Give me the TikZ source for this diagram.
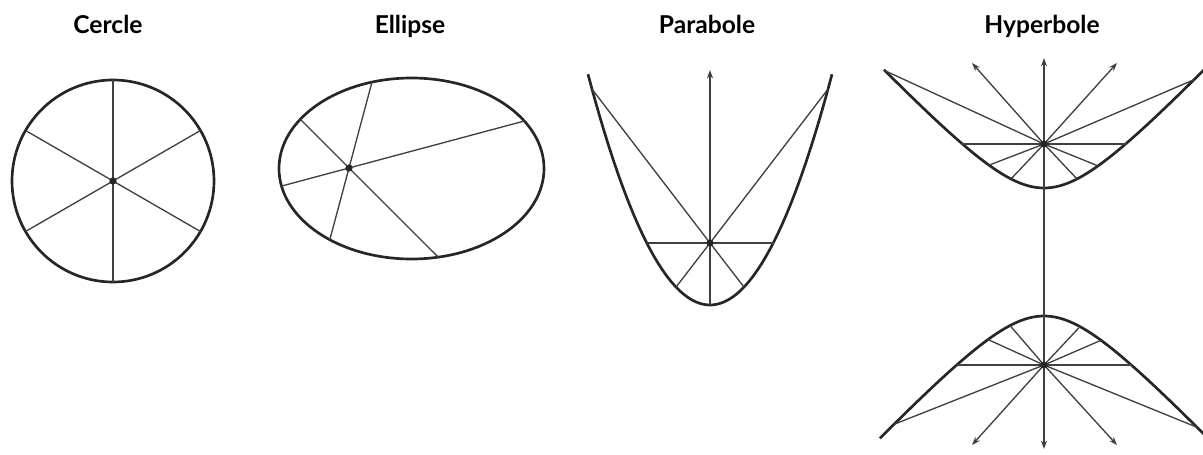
\documentclass[tikz,border=0pt]{standalone}
\usepackage{fontspec}
\newfontfamily\titlefont{Lato}
\definecolor{ConiqueInk}{HTML}{262626}
\definecolor{ConiqueRay}{HTML}{404040}
\usetikzlibrary{arrows.meta,calc,intersections}

\begin{document}
\begin{tikzpicture}[
    x=0.25mm, y=-0.25mm,
    declare function={
      parab(\t)=305-0.0155*\t*\t;
      hypH(\t)=252-64*sqrt(1+(\t/60)^2);
      hypB(\t)=252+64*sqrt(1+(\t/60)^2);
    },
    courbe/.style={draw=ConiqueInk, line width=1.9pt},
    rayon/.style={draw=ConiqueRay, line width=0.95pt},
    fleche/.style={rayon, -{Stealth[length=2.1mm,width=1.5mm]}},
    foyer/.style={circle, fill=ConiqueInk, inner sep=0pt, minimum size=1.8mm},
    titre/.style={font=\titlefont\bfseries\fontsize{17.5}{20}\selectfont, anchor=base}
  ]
  \useasboundingbox (0,0) rectangle (1203,455);

  % titles
  \node[titre] (tCercle) at (108,34) {Cercle};
  \node[titre] (tEllipse) at (410,34) {Ellipse};
  \node[titre] (tParabole) at (707,34) {Parabole};
  \node[titre] (tHyperbole) at (1042,34) {Hyperbole};

  % cercle
  \coordinate (Oc) at (113,181);
  \draw[courbe] (Oc) circle [radius=101];
  \foreach \a in {30,90,150}
    \draw[rayon] ($(Oc)+(\a:101)$) -- ($(Oc)+(\a+180:101)$);
  \node[foyer] (fc) at (Oc) {};

  % ellipse
  \coordinate (Oe) at (411.5,168.5);
  \coordinate (Fe) at (349,168);
  \draw[courbe, name path=ell] (Oe) ellipse [x radius=132.5, y radius=90.5];
  \foreach \a in {-15,45,-75} {
    \path[name path=corde] ($(Fe)+(\a:260)$) -- ($(Fe)+(\a+180:260)$);
    \draw[rayon, name intersections={of=ell and corde}]
      (intersection-1) -- (intersection-2);
  }
  \node[foyer] (fe) at (Fe) {};

  % parabole
  \coordinate (Fp) at (710,243);
  \coordinate (Sp) at (710,305);
  \coordinate (Ap) at (710,70);
  \draw[courbe] plot[domain=-122:122, samples=60] ({710+\x},{parab(\x)});
  \draw[fleche] (Sp) -- (Ap);
  \draw[rayon] ({710-63.5},243) -- ({710+63.5},243);
  \foreach \d in {-118,-34,34,118}
    \draw[rayon] (Fp) -- ({710+\d},{parab(\d)});
  \node[foyer] (fp) at (Fp) {};

  % hyperbole
  \coordinate (Fh) at (1044,144);
  \coordinate (Fb) at (1044,365);
  \coordinate (Ah) at (1044,58);
  \coordinate (Ab) at (1044,449);
  \draw[courbe] plot[domain=-160:162, samples=80] ({1044+\x},{hypH(\x)});
  \draw[courbe] plot[domain=-164:164, samples=80] ({1044+\x},{hypB(\x)});
  \draw[rayon, {Stealth[length=2.1mm,width=1.5mm]}-{Stealth[length=2.1mm,width=1.5mm]}] (Ab) -- (Ah);
  \draw[rayon] ({1044-83},144) -- ({1044+83},144);
  \draw[rayon] ({1044-87},365) -- ({1044+88},365);
  \foreach \d in {-159,-55,-33,33,54,150}
    \draw[rayon] (Fh) -- ({1044+\d},{hypH(\d)});
  \foreach \d in {-150,-56,-34,36,57,153}
    \draw[rayon] (Fb) -- ({1044+\d},{hypB(\d)});
  \draw[fleche] (Fh) -- (972,63);
  \draw[fleche] (Fh) -- (1117,63);
  \draw[fleche] (Fb) -- (972,445);
  \draw[fleche] (Fb) -- (1117,445);
  \node[foyer] (fh) at (Fh) {};
  \node[foyer] (fb) at (Fb) {};
\end{tikzpicture}
\end{document}
